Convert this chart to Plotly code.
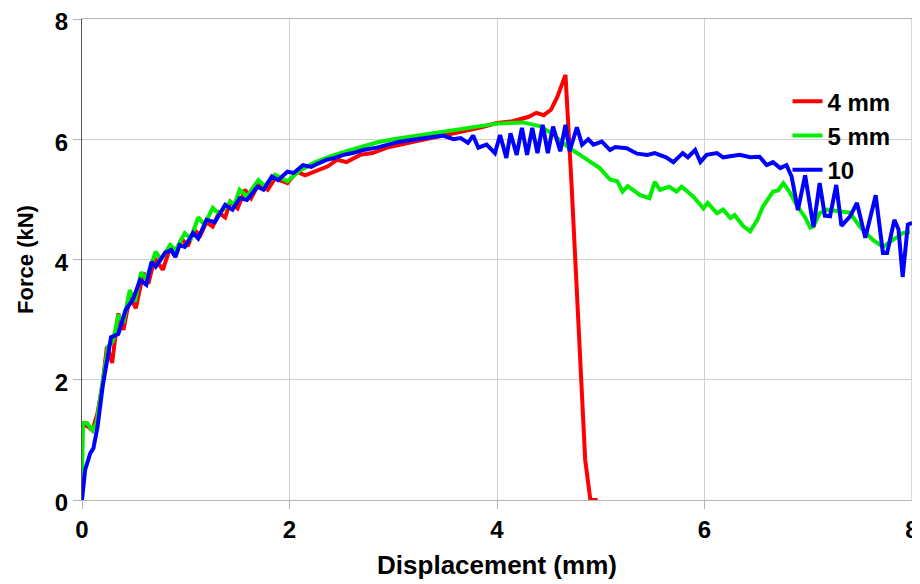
import plotly.graph_objects as go

# ---- data ----
x_4mm = [0.00, 0.00, 0.02, 0.06, 0.10, 0.15, 0.20, 0.24, 0.29, 0.35, 0.40, 0.46, 0.52, 0.59, 0.64,
         0.70, 0.78, 0.85, 0.90, 0.96, 1.02, 1.08, 1.14, 1.20, 1.26, 1.32, 1.38, 1.43, 1.50, 1.57,
         1.63, 1.70, 1.79, 1.86, 1.98, 2.07, 2.15, 2.29, 2.37, 2.46, 2.55, 2.68, 2.80, 2.94, 3.06,
         3.25, 3.45, 3.65, 3.85, 4.00, 4.15, 4.30, 4.38, 4.45, 4.52, 4.58, 4.62, 4.66, 4.72, 4.80,
         4.85, 4.90, 4.97]
y_4mm = [0.33, 1.16, 1.25, 1.22, 1.16, 1.45, 1.95, 2.55, 2.28, 3.10, 2.83, 3.38, 3.19, 3.78, 3.60,
         4.02, 3.83, 4.20, 4.05, 4.35, 4.22, 4.50, 4.40, 4.62, 4.55, 4.78, 4.70, 4.96, 4.85, 5.16,
         5.02, 5.25, 5.16, 5.35, 5.27, 5.46, 5.40, 5.49, 5.55, 5.66, 5.62, 5.74, 5.77, 5.86, 5.91,
         5.98, 6.05, 6.12, 6.20, 6.27, 6.30, 6.37, 6.44, 6.40, 6.49, 6.70, 6.90, 7.07, 5.20, 2.60,
         0.67, 0.00, 0.00]

x_5mm = [0.00, 0.01, 0.05, 0.10, 0.14, 0.20, 0.25, 0.30, 0.35, 0.40, 0.46, 0.51, 0.57, 0.62, 0.71,
         0.76, 0.85, 0.90, 0.99, 1.05, 1.12, 1.18, 1.26, 1.32, 1.43, 1.47, 1.52, 1.59, 1.70, 1.76,
         1.86, 1.98, 2.10, 2.25, 2.40, 2.55, 2.70, 2.85, 3.00, 3.20, 3.40, 3.70, 4.00, 4.25, 4.41,
         4.51, 4.61, 4.70, 4.80, 4.93, 4.99, 5.09, 5.16, 5.21, 5.26, 5.38, 5.47, 5.52, 5.57, 5.66,
         5.73, 5.78, 5.89, 5.99, 6.03, 6.12, 6.18, 6.25, 6.29, 6.37, 6.44, 6.51, 6.56, 6.66, 6.71,
         6.76, 6.82, 6.89, 6.97, 7.02, 7.05, 7.11, 7.18, 7.31, 7.40, 7.50, 7.62, 7.72, 7.82, 7.91,
         7.98]
y_5mm = [0.38, 1.28, 1.28, 1.16, 1.28, 1.95, 2.55, 2.65, 3.08, 2.95, 3.49, 3.30, 3.79, 3.68, 4.13,
         4.00, 4.24, 4.15, 4.44, 4.35, 4.70, 4.58, 4.86, 4.76, 4.96, 4.92, 5.16, 5.05, 5.32, 5.22,
         5.41, 5.30, 5.48, 5.62, 5.72, 5.80, 5.88, 5.95, 6.00, 6.05, 6.10, 6.18, 6.26, 6.28, 6.22,
         6.12, 5.97, 5.85, 5.74, 5.60, 5.52, 5.33, 5.30, 5.13, 5.22, 5.07, 5.02, 5.29, 5.16, 5.21,
         5.13, 5.21, 5.05, 4.85, 4.94, 4.77, 4.83, 4.69, 4.74, 4.56, 4.47, 4.66, 4.87, 5.13, 5.15,
         5.27, 5.12, 4.90, 4.70, 4.53, 4.55, 4.77, 4.83, 4.80, 4.78, 4.54, 4.33, 4.21, 4.33, 4.44,
         4.46]

x_10 = [0.00, 0.03, 0.08, 0.11, 0.15, 0.20, 0.25, 0.28, 0.35, 0.42, 0.49, 0.56, 0.62, 0.67, 0.71,
        0.80, 0.86, 0.90, 0.94, 0.99, 1.07, 1.12, 1.20, 1.28, 1.38, 1.45, 1.52, 1.59, 1.69, 1.75,
        1.83, 1.89, 1.98, 2.04, 2.13, 2.21, 2.28, 2.36, 2.44, 2.52, 2.61, 2.71, 2.84, 2.97, 3.06,
        3.19, 3.35, 3.48, 3.58, 3.65, 3.72, 3.77, 3.82, 3.90, 3.98, 4.03, 4.09, 4.13, 4.19, 4.24,
        4.29, 4.34, 4.39, 4.44, 4.49, 4.54, 4.61, 4.66, 4.70, 4.77, 4.82, 4.88, 4.93, 5.01, 5.09,
        5.14, 5.25, 5.35, 5.45, 5.52, 5.63, 5.70, 5.79, 5.84, 5.91, 5.96, 6.02, 6.12, 6.18, 6.27,
        6.34, 6.44, 6.53, 6.60, 6.66, 6.73, 6.79, 6.84, 6.90, 6.97, 7.05, 7.11, 7.16, 7.21, 7.27,
        7.32, 7.40, 7.47, 7.55, 7.65, 7.72, 7.76, 7.83, 7.87, 7.91, 7.96, 8.00]
y_10 = [0.00, 0.50, 0.78, 0.86, 1.22, 1.90, 2.40, 2.71, 2.76, 3.16, 3.33, 3.66, 3.58, 3.96, 3.88,
        4.11, 4.16, 4.04, 4.24, 4.21, 4.44, 4.35, 4.66, 4.62, 4.91, 4.83, 5.02, 4.99, 5.21, 5.16,
        5.38, 5.32, 5.46, 5.44, 5.57, 5.54, 5.60, 5.66, 5.69, 5.74, 5.77, 5.82, 5.86, 5.91, 5.96,
        5.99, 6.03, 6.06, 6.00, 6.02, 5.94, 6.06, 5.86, 5.91, 5.77, 6.07, 5.69, 6.10, 5.74, 6.19,
        5.74, 6.19, 5.77, 6.24, 5.77, 6.21, 5.80, 6.24, 5.80, 6.20, 5.91, 6.00, 5.91, 5.96, 5.82,
        5.87, 5.85, 5.76, 5.74, 5.77, 5.70, 5.62, 5.77, 5.70, 5.82, 5.62, 5.74, 5.77, 5.70, 5.72,
        5.74, 5.70, 5.71, 5.57, 5.62, 5.52, 5.57, 5.38, 4.82, 5.40, 4.54, 5.27, 4.73, 4.72, 5.24,
        4.56, 4.71, 4.94, 4.36, 5.07, 4.11, 4.11, 4.66, 4.50, 3.71, 4.58, 4.61]

series_names = ["4 mm", "5 mm", "10"]
series_colors = ["#ff0000", "#00ee00", "#0000ff"]

x_ticks = [0, 2, 4, 6, 8]
y_ticks = [0, 2, 4, 6, 8]

FONT = "Liberation Sans, Arial, sans-serif"

fig = go.Figure()
for name, xs, ys, col in zip(series_names, [x_4mm, x_5mm, x_10], [y_4mm, y_5mm, y_10], series_colors):
    fig.add_trace(go.Scatter(x=xs, y=ys, mode="lines", name=name,
                             line=dict(color=col, width=4)))

# the page body has an 8px default margin, so the figure is 912x576 and sits at (8, 8)
fig.update_layout(
    width=912, height=576,
    margin=dict(l=74, r=8, t=11, b=84),
    paper_bgcolor="white", plot_bgcolor="white",
    font=dict(family=FONT, color="black"),
    showlegend=True,
    legend=dict(x=0.85, y=0.875, xanchor="left", yanchor="top",
                bgcolor="rgba(0,0,0,0)", borderwidth=0,
                font=dict(family=FONT, size=24, color="black", weight="bold"),
                tracegroupgap=0, itemwidth=30),
    shapes=[dict(type="line", xref="paper", yref="paper", x0=1, x1=1, y0=0, y1=1,
                 line=dict(color="#b5b5b5", width=1), layer="below")],
)
fig.update_xaxes(
    range=[0, 8], tickvals=x_ticks, ticktext=[str(v) for v in x_ticks],
    automargin=False, ticklabeloverflow="allow",
    showgrid=True, gridcolor="#cfcfcf", gridwidth=1, zeroline=False,
    showline=True, linecolor="#b5b5b5", linewidth=1, mirror=True,
    ticks="outside", ticklen=8, tickcolor="#b5b5b5",
    tickfont=dict(family=FONT, size=24, color="black", weight="bold"),
    title=dict(text="Displacement (mm)", standoff=14,
               font=dict(family=FONT, size=26, color="black", weight="bold")),
)
fig.update_yaxes(
    range=[0, 8], tickvals=y_ticks, ticktext=[str(v) for v in y_ticks],
    automargin=False, ticklabeloverflow="allow", ticklabelshift=3,
    showgrid=True, gridcolor="#cfcfcf", gridwidth=1, zeroline=False,
    showline=True, linecolor="#555555", linewidth=1,
    ticks="outside", ticklen=8, tickcolor="#b5b5b5",
    tickfont=dict(family=FONT, size=24, color="black", weight="bold"),
    title=dict(text="Force (kN)",
               font=dict(family=FONT, size=22, color="black", weight="bold")),
)

fig.write_html("out.html")
